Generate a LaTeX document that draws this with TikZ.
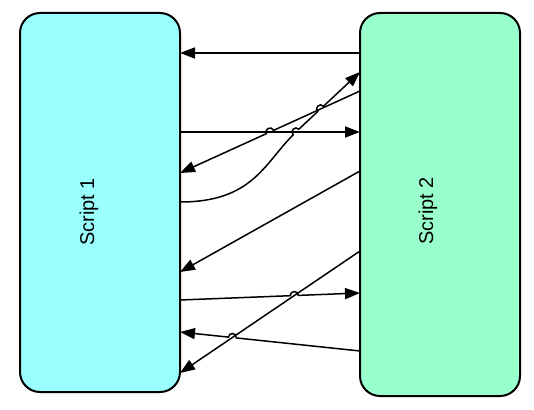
\documentclass[tikz,border=0pt]{standalone}
\usepackage{fontspec}
\setmainfont{Liberation Sans}
\usetikzlibrary{arrows.meta,calc,positioning}
\definecolor{scriptcyan}{HTML}{99FFFF}
\definecolor{scriptgreen}{HTML}{99FFCC}
\tikzset{
	script/.style={draw, line width=2pt, rounded corners=20pt, minimum width=160pt, inner sep=0pt, outer sep=0pt},
	scriptname/.style={rotate=90, inner sep=0pt, font=\fontsize{20}{22}\selectfont},
	msg/.style={line width=1.5pt, -{Triangle[length=15pt,width=11pt]}},
	hopl/.style={bend left=90, looseness=1.7},
	hopr/.style={bend right=90, looseness=1.7}
}
\begin{document}
\begin{tikzpicture}[x=1pt, y=1pt]
				\useasboundingbox (0,0) rectangle (534,409);
				\node (A) [script, fill=scriptcyan, minimum height=379pt] at (100,206.5) {};
				\node (B) [script, fill=scriptgreen, minimum height=383pt, right=180pt of A.north east, anchor=north west] {};
				\node (a) [scriptname] at ([shift={(-11pt,-9.5pt)}]A.center) {Script 1};
				\node (b) [scriptname] at ([shift={(-12pt,-6.5pt)}]B.center) {Script 2};
				\coordinate (r1) at (B.west |- 0,356);
				\coordinate (l1) at (A.east |- 0,356);
				\coordinate (c0) at (A.east |- 0,207);
				\coordinate (c1) at (B.west |- 0,337);
				\coordinate (r3) at (B.west |- 0,318);
				\coordinate (l3) at (A.east |- 0,236);
				\coordinate (l4) at (A.east |- 0,277);
				\coordinate (r4) at (B.west |- 0,277);
				\coordinate (r5) at (B.west |- 0,238);
				\coordinate (l5) at (A.east |- 0,137);
				\coordinate (l6) at (A.east |- 0,109);
				\coordinate (r6) at (B.west |- 0,116);
				\coordinate (r7) at (B.west |- 0,158);
				\coordinate (l7) at (A.east |- 0,36);
				\coordinate (r8) at (B.west |- 0,58);
				\coordinate (l8) at (A.east |- 0,77);
				\coordinate (x1) at (l4 -| 296,0);
				\coordinate (x2) at (intersection of r3--l3 and x1--c1);
				\coordinate (x3) at (intersection of r3--l3 and l4--r4);
				\coordinate (x6) at (intersection of l6--r6 and r7--l7);
				\coordinate (x8) at (intersection of r8--l8 and r7--l7);
				\draw[msg]	(r1) -- (l1);
				\draw[msg]	(l4) -- (r4);
				\draw[msg]	(r3) -- ($(x3)!4pt!(r3)$) to[hopr] ($(x3)!4pt!(l3)$) -- (l3);
				\draw[msg]	(c0) to[out=0, in=225, out looseness=1.4, in looseness=0.8] ([shift={(225:4pt)}]x1) to[hopl] ([shift={(45:4pt)}]x1) -- ($(x2)!4pt!(x1)$) to[hopl] ($(x2)!4pt!(c1)$) -- (c1);
				\draw[msg]	(r5) -- (l5);
				\draw[msg]	(r7) -- (l7);
				\draw[msg]	(l6) -- ($(x6)!4pt!(l6)$) to[hopl] ($(x6)!4pt!(r6)$) -- (r6);
				\draw[msg]	(r8) -- ($(x8)!4pt!(r8)$) to[hopr] ($(x8)!4pt!(l8)$) -- (l8);
\end{tikzpicture}
\end{document}
